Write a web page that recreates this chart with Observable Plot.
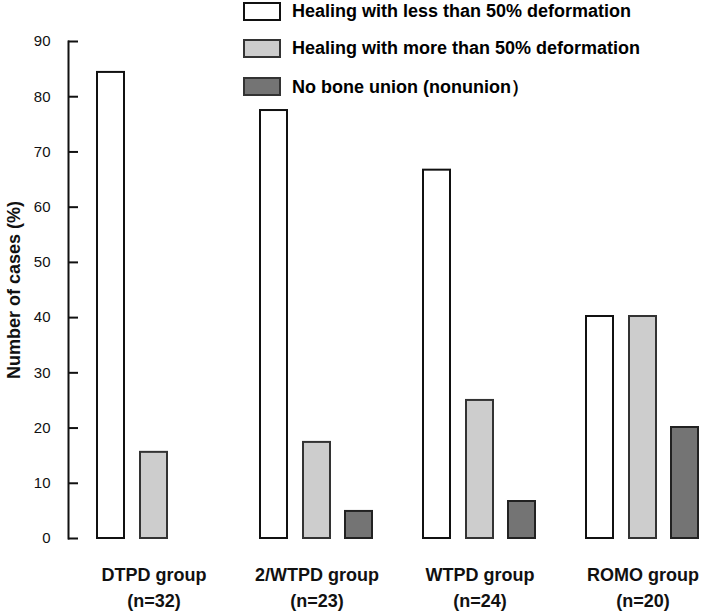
<!DOCTYPE html>
<html><head><meta charset="utf-8">
<script src="https://cdn.jsdelivr.net/npm/d3@7"></script>
<script src="https://cdn.jsdelivr.net/npm/@observablehq/plot@0.6"></script>
<style>
body{margin:0;background:#fff;font-family:"Liberation Sans",Arial,sans-serif;}
#wrap{position:relative;width:708px;height:611px;}
#legend{position:absolute;left:0;top:0;}
.row{position:absolute;left:243px;display:flex;align-items:center;height:19px;white-space:nowrap;}
.sw{box-sizing:border-box;width:38px;height:19px;border:2px solid #222;margin-right:11px;}
.lab{font-weight:bold;font-size:18px;color:#000;}
</style></head><body>
<div id="wrap"><div id="chart"></div><div id="legend"></div></div>
<script>
const groups = ["DTPD group", "2/WTPD group", "WTPD group", "ROMO group"];
const groupN = ["(n=32)", "(n=23)", "(n=24)", "(n=20)"];
const seriesNames = ["Healing with less than 50% deformation", "Healing with more than 50% deformation", "No bone union (nonunion\uFF09"];
const seriesFill = ["#ffffff", "#cdcdcd", "#747474"];
const seriesStroke = ["#111111", "#333333", "#222222"];
const lessDeform = [84.4, 77.5, 66.7, 40.2];
const moreDeform = [15.6, 17.4, 25.0, 40.2];
const nonunion = [0, 4.9, 6.7, 20.1];
const yTicks = [0, 10, 20, 30, 40, 50, 60, 70, 80, 90];
const seriesValues = [lessDeform, moreDeform, nonunion];
const seriesOffset = [-43, 0, 42];

const barMarks = seriesValues.map((vals, s) => {
  const rows = groups.map((g, i) => ({group: g, value: vals[i]})).filter(d => d.value > 0);
  return Plot.barY(rows, {x: "group", y: "value", dx: seriesOffset[s], fill: seriesFill[s], stroke: seriesStroke[s], strokeWidth: 2, insetLeft: 1, insetRight: 1});
});

const chart = Plot.plot({
  width: 708,
  height: 611,
  marginLeft: 68,
  marginRight: 0,
  marginTop: 41,
  marginBottom: 73,
  style: {fontFamily: "'Liberation Sans', Arial, sans-serif", fontSize: "15px", background: "#fff", color: "#000", overflow: "visible"},
  x: {domain: groups, range: [138, 657], paddingInner: 0.8224, paddingOuter: 0},
  y: {domain: [0, 90]},
  marks: [
    ...barMarks,
    Plot.frame({anchor: "left", strokeWidth: 2, stroke: "#111"}),
    Plot.ruleY([0], {strokeWidth: 2, stroke: "#111", x1: -3}),
    Plot.tickY(yTicks, {y: d => d, insetRight: 630, strokeWidth: 2, stroke: "#111"}),
    Plot.axisY(yTicks, {tickSize: 0, tickPadding: 18, fontSize: 15, label: null, fill: "#111"}),
    Plot.axisX({tickSize: 0, tickPadding: 25, fontSize: 18, fontWeight: "bold", lineHeight: 1.4, label: null, fill: "#111",
      tickFormat: d => d + "\n" + groupN[groups.indexOf(d)]}),
    Plot.text(["Number of cases (%)"], {frameAnchor: "left", dx: -54, textAnchor: "middle", rotate: -90, fontSize: 18, fontWeight: "bold", fill: "#111"})
  ]
});
document.getElementById("chart").appendChild(chart);

const legend = document.getElementById("legend");
const rowTops = [2, 39, 77];
seriesNames.forEach((name, i) => {
  const row = document.createElement("div");
  row.className = "row";
  row.style.top = rowTops[i] + "px";
  const sw = document.createElement("div");
  sw.className = "sw";
  sw.style.background = seriesFill[i];
  sw.style.borderColor = i === 0 ? "#111" : "#333";
  const lab = document.createElement("span");
  lab.className = "lab";
  lab.textContent = name;
  row.appendChild(sw);
  row.appendChild(lab);
  legend.appendChild(row);
});
</script>
</body></html>
